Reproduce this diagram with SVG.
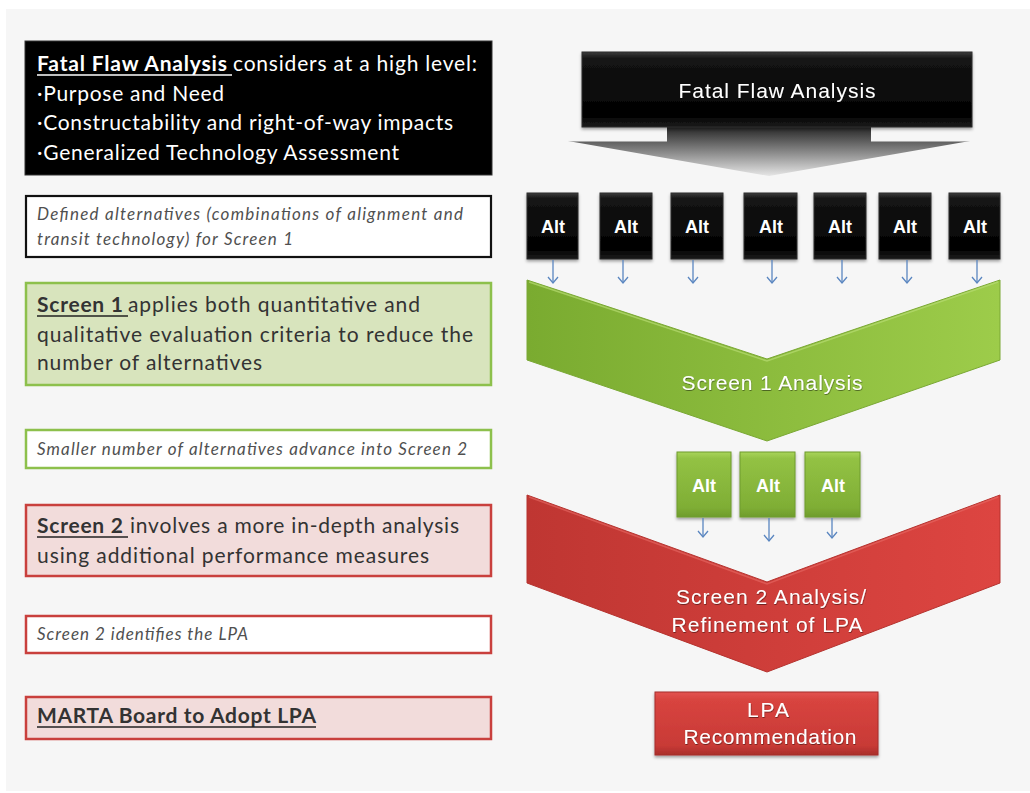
<svg xmlns="http://www.w3.org/2000/svg" width="1030" height="793" viewBox="0 0 1030 793">
  <defs>
    <style>
      .lt { font-family: Lato, "Open Sans", "Liberation Sans", sans-serif; font-size: 21px; fill: #333333; }
      .lt-w { fill: #ffffff; }
      .lt-b { font-weight: bold; }
      .it { font-family: Lato, "Open Sans", "Liberation Sans", sans-serif; font-style: italic; font-size: 17px; fill: #505050; }
      .ar { font-family: "Liberation Sans", Arial, sans-serif; font-size: 21px; fill: #ffffff; text-anchor: middle; }
      .alt { font-family: "Liberation Sans", Arial, sans-serif; font-size: 18px; font-weight: bold; fill: #ffffff; text-anchor: middle; }
      .ul-w { stroke: #ffffff; stroke-width: 1.6; }
      .ul-d { stroke: #222222; stroke-width: 1.6; }
      .blk { fill: url(#gBlack); stroke: #2e2e2e; stroke-width: 1; filter: url(#shadow); }
      .grn { fill: url(#gGreenBox); stroke: #6f9c2e; stroke-width: 1; filter: url(#shadow); }
      .conn { stroke: #5a86c0; stroke-width: 1.3; fill: none; marker-end: url(#openHead); }
    </style>
    <filter id="shadow" x="-20%" y="-20%" width="140%" height="150%">
      <feDropShadow dx="0" dy="2" stdDeviation="1.5" flood-color="#000000" flood-opacity="0.35"/>
    </filter>
    <filter id="txtShadow" x="-10%" y="-20%" width="120%" height="150%">
      <feDropShadow dx="0.5" dy="1" stdDeviation="0.6" flood-color="#000000" flood-opacity="0.45"/>
    </filter>
    <linearGradient id="gBlack" x1="0" y1="0" x2="0" y2="1">
      <stop offset="0" stop-color="#3c3c3c"/>
      <stop offset="0.09" stop-color="#141414"/>
      <stop offset="0.85" stop-color="#020202"/>
      <stop offset="1" stop-color="#1c1c1c"/>
    </linearGradient>
    <linearGradient id="gGreenBox" x1="0" y1="0" x2="0" y2="1">
      <stop offset="0" stop-color="#a9d45a"/>
      <stop offset="0.1" stop-color="#93c244"/>
      <stop offset="0.85" stop-color="#7fae35"/>
      <stop offset="1" stop-color="#6e9c2c"/>
    </linearGradient>
    <linearGradient id="gGreenChev" x1="0" y1="0" x2="1" y2="0">
      <stop offset="0" stop-color="#7aab30"/>
      <stop offset="1" stop-color="#9dcc4a"/>
    </linearGradient>
    <linearGradient id="gRedChev" x1="0" y1="0" x2="1" y2="0">
      <stop offset="0" stop-color="#bf3632"/>
      <stop offset="1" stop-color="#dd4541"/>
    </linearGradient>
    <linearGradient id="gRedBox" x1="0" y1="0" x2="0" y2="1">
      <stop offset="0" stop-color="#e35451"/>
      <stop offset="0.12" stop-color="#d8443f"/>
      <stop offset="0.85" stop-color="#c83a36"/>
      <stop offset="1" stop-color="#a92e2b"/>
    </linearGradient>
    <linearGradient id="gFunnel" gradientUnits="userSpaceOnUse" x1="0" y1="127" x2="0" y2="176">
      <stop offset="0" stop-color="#262626"/>
      <stop offset="0.35" stop-color="#6a6a6a"/>
      <stop offset="1" stop-color="#e6e6e6"/>
    </linearGradient>
    <!-- open "V" head, drawn pointing along +x so orient=auto follows the line -->
    <marker id="openHead" markerWidth="12" markerHeight="12" refX="9" refY="6" orient="auto" markerUnits="userSpaceOnUse" viewBox="0 0 12 12">
      <polyline points="3,1 9,6 3,11" fill="none" stroke="#5a86c0" stroke-width="1.3"/>
    </marker>
  </defs>

  <!-- page -->
  <rect x="0" y="0" width="1030" height="793" fill="#ffffff"/>
  <rect x="6" y="9" width="1024" height="782" fill="#f6f6f6"/>

  <!-- left column: descriptions -->
  <g id="desc-fatal-flaw">
    <rect x="25" y="41" width="467" height="134" fill="#000000" stroke="#333333" stroke-width="1"/>
    <text class="lt lt-w lt-b" x="37" y="71" textLength="190">Fatal Flaw Analysis</text>
    <line class="ul-w" x1="37" y1="75" x2="232" y2="75"/>
    <text class="lt lt-w" x="233" y="71" textLength="244">considers at a high level:</text>
    <text class="lt lt-w" x="37" y="101" textLength="187">·Purpose and Need</text>
    <text class="lt lt-w" x="37" y="130" textLength="416">·Constructability and right-of-way impacts</text>
    <text class="lt lt-w" x="37" y="160" textLength="362">·Generalized Technology Assessment</text>
  </g>

  <g id="desc-defined-alts">
    <rect x="26" y="196" width="465" height="61" fill="#ffffff" stroke="#111111" stroke-width="2.2"/>
    <text class="it" x="37" y="220" textLength="426">Defined alternatives (combinations of alignment and</text>
    <text class="it" x="37" y="245" textLength="256">transit technology)  for Screen 1</text>
  </g>

  <g id="desc-screen1">
    <rect x="26" y="283" width="465" height="102" fill="#d8e4bd" stroke="#8dc04c" stroke-width="2.5"/>
    <text class="lt lt-b" x="37" y="312" textLength="86" fill="#222222">Screen 1</text>
    <line class="ul-d" x1="37" y1="316" x2="128" y2="316"/>
    <text class="lt" x="128" y="312" textLength="292">applies both quantitative and</text>
    <text class="lt" x="37" y="342" textLength="436">qualitative  evaluation criteria to reduce the</text>
    <text class="lt" x="37" y="370" textLength="225">number of alternatives</text>
  </g>

  <g id="desc-advance">
    <rect x="26" y="430" width="465" height="38" fill="#ffffff" stroke="#8dc04c" stroke-width="2.5"/>
    <text class="it" x="37" y="455" textLength="430">Smaller number of alternatives advance into Screen 2</text>
  </g>

  <g id="desc-screen2">
    <rect x="26" y="505" width="465" height="71" fill="#f2dcdb" stroke="#c9403d" stroke-width="2.5"/>
    <text class="lt lt-b" x="37" y="533" textLength="86" fill="#222222">Screen 2</text>
    <line class="ul-d" x1="37" y1="537" x2="128" y2="537"/>
    <text class="lt" x="130" y="533" textLength="329">involves a more in-depth analysis</text>
    <text class="lt" x="37" y="563" textLength="392">using additional performance  measures</text>
  </g>

  <g id="desc-identifies">
    <rect x="26" y="616" width="465" height="37" fill="#ffffff" stroke="#c9403d" stroke-width="2.5"/>
    <text class="it" x="37" y="640" textLength="211">Screen 2 identifies the LPA</text>
  </g>

  <g id="desc-board">
    <rect x="26" y="697" width="465" height="42" fill="#f2dcdb" stroke="#c9403d" stroke-width="2.5"/>
    <text class="lt lt-b" x="37" y="723" textLength="279" fill="#222222">MARTA Board to Adopt LPA</text>
    <line class="ul-d" x1="37" y1="727" x2="316" y2="727"/>
  </g>

  <!-- right column: process flow -->
  <g id="fatal-flaw">
    <path d="M667,127 L871,127 L871,141 L970,141 L769,176 L568,141 L667,141 Z" fill="url(#gFunnel)"/>
    <path d="M568,141 L667,141 M871,141 L970,141" stroke="#f2f2f2" stroke-width="1.2" fill="none"/>
    <rect class="blk" x="582" y="52" width="390" height="75"/>
    <text class="ar" x="777" y="98" textLength="197" filter="url(#txtShadow)" font-size="22">Fatal Flaw Analysis</text>
  </g>

  <g id="alts-initial">
    <g id="alt-1"><rect class="blk" x="527" y="193" width="51" height="66"/><text class="alt" x="553" y="233">Alt</text></g>
    <g id="alt-2"><rect class="blk" x="600" y="193" width="52" height="66"/><text class="alt" x="626" y="233">Alt</text></g>
    <g id="alt-3"><rect class="blk" x="671" y="193" width="52" height="66"/><text class="alt" x="697" y="233">Alt</text></g>
    <g id="alt-4"><rect class="blk" x="744" y="193" width="53" height="66"/><text class="alt" x="771" y="233">Alt</text></g>
    <g id="alt-5"><rect class="blk" x="814" y="193" width="52" height="66"/><text class="alt" x="840" y="233">Alt</text></g>
    <g id="alt-6"><rect class="blk" x="879" y="193" width="52" height="66"/><text class="alt" x="905" y="233">Alt</text></g>
    <g id="alt-7"><rect class="blk" x="949" y="193" width="51" height="66"/><text class="alt" x="975" y="233">Alt</text></g>
  </g>

  <g id="screen1-analysis">
    <path d="M527,280 L767,359 L1000,280 L1000,360 L767,441 L527,360 Z" fill="url(#gGreenChev)" stroke="#7aa834" stroke-width="1"/>
    <path d="M529,282 L767,361 L998,282" fill="none" stroke="#b7dc72" stroke-width="1.5" opacity="0.7"/>
    <text class="ar" x="772" y="390" textLength="181" filter="url(#txtShadow)">Screen 1 Analysis</text>
  </g>

  <g id="alts-advanced">
    <g id="alt-a"><rect class="grn" x="677" y="452" width="54" height="65"/><text class="alt" x="704" y="492">Alt</text></g>
    <g id="alt-b"><rect class="grn" x="740" y="452" width="55" height="65"/><text class="alt" x="768" y="492">Alt</text></g>
    <g id="alt-c"><rect class="grn" x="805" y="452" width="55" height="65"/><text class="alt" x="833" y="492">Alt</text></g>
  </g>

  <g id="screen2-analysis">
    <path d="M527,495 L767,582 L1000,495 L1000,583 L767,672 L527,583 Z" fill="url(#gRedChev)" stroke="#b5332f" stroke-width="1"/>
    <path d="M529,497 L767,584 L998,497" fill="none" stroke="#e86a66" stroke-width="1.5" opacity="0.6"/>
    <text class="ar" x="771" y="604" textLength="190" filter="url(#txtShadow)">Screen 2 Analysis/</text>
    <text class="ar" x="767" y="632" textLength="191" filter="url(#txtShadow)">Refinement of LPA</text>
  </g>

  <g id="lpa-recommendation">
    <rect x="655" y="692" width="223" height="63" fill="url(#gRedBox)" stroke="#a52f2c" stroke-width="1" filter="url(#shadow)"/>
    <text class="ar" x="768" y="717" textLength="42" filter="url(#txtShadow)">LPA</text>
    <text class="ar" x="770" y="744" textLength="173" filter="url(#txtShadow)">Recommendation</text>
  </g>

  <!-- connectors -->
  <g id="connectors">
    <line class="conn" x1="553" y1="260" x2="553" y2="283"/>
    <line class="conn" x1="623" y1="260" x2="623" y2="283"/>
    <line class="conn" x1="693" y1="260" x2="693" y2="283"/>
    <line class="conn" x1="772" y1="260" x2="772" y2="283"/>
    <line class="conn" x1="842" y1="260" x2="842" y2="283"/>
    <line class="conn" x1="907" y1="260" x2="907" y2="283"/>
    <line class="conn" x1="977" y1="260" x2="977" y2="283"/>
    <line class="conn" x1="703" y1="518" x2="703" y2="537"/>
    <line class="conn" x1="769" y1="518" x2="769" y2="541"/>
    <line class="conn" x1="832" y1="518" x2="832" y2="538"/>
  </g>
</svg>
